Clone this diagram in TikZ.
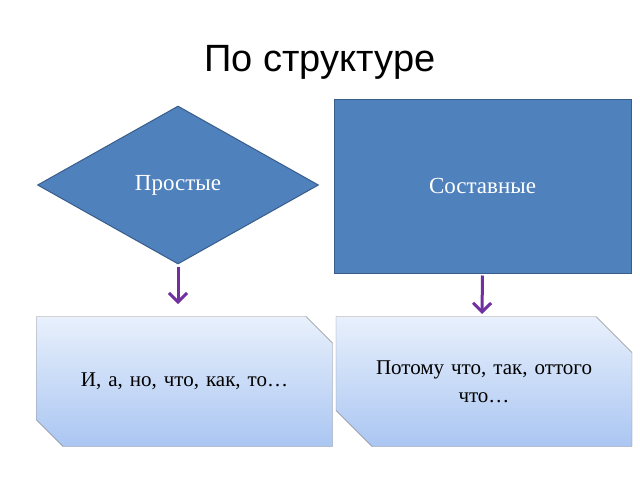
\documentclass[tikz,border=0pt]{standalone}
\usepackage{fontspec}
\setmainfont{Liberation Serif}
\newfontfamily\titlefont{Liberation Sans}
\usetikzlibrary{shapes.geometric,shapes.misc,arrows.meta}
\definecolor{boxblue}{RGB}{79,129,189}
\definecolor{boxline}{RGB}{56,93,138}
\definecolor{arrowpurple}{RGB}{112,48,160}
\definecolor{shadetop}{RGB}{232,240,252}
\definecolor{shadebottom}{RGB}{170,198,242}
\tikzset{
kind/.style={draw=boxline,fill=boxblue,line width=1pt,text=white,font=\fontsize{23}{27}\selectfont,inner sep=0pt},
example/.style={shape=chamfered rectangle,chamfered rectangle corners={north east,south west},
  chamfered rectangle xsep=18pt,chamfered rectangle ysep=18pt,draw=black!45,
  top color=shadetop,bottom color=shadebottom,inner sep=0pt,minimum width=296pt,minimum height=130pt,
  font=\fontsize{21}{28}\selectfont,align=center,text width=250pt},
link/.style={draw=arrowpurple,line width=3pt,-{Straight Barb[length=9pt,width=18pt,line width=3pt]}}
}
\begin{document}
\begin{tikzpicture}[x=1pt,y=-1pt]
\useasboundingbox (0,0) rectangle (640,480);
\node (title) at (320,62) {\titlefont\fontsize{38}{42}\selectfont По структуре};
\node[kind,shape=diamond,minimum width=281pt,minimum height=158pt] (simple) at (178,185) {Простые};
\node[kind,shape=rectangle,minimum width=297pt,minimum height=174pt] (compound) at (482.5,186) {Составные};
\node[example] (ex1) at (184.5,381.5) {И, а, но, что, как, то…};
\node[example] (ex2) at (484,381.5) {Потому что, так, оттого\\что…};
\draw[link] (simple.south) ++(0,2) -- (178,304);
\draw[link] (compound.south) ++(0,2) -- (482,314);
\end{tikzpicture}
\end{document}
